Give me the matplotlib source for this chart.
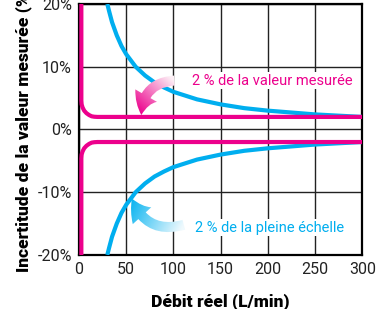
import numpy as np
import matplotlib
matplotlib.use("Agg")
import matplotlib.pyplot as plt
from matplotlib.patches import FancyArrowPatch
from matplotlib.colors import LinearSegmentedColormap

# 2 % de la pleine echelle (upper branch, lower is mirrored)
x_fs = [30, 32, 35, 40, 45, 50, 60, 70, 80, 90, 100, 125, 150, 175, 200, 250, 300]
y_fs = [20.0, 18.8, 17.1, 15.0, 13.3, 12.0, 10.0, 8.6, 7.5, 6.7, 6.0, 4.8, 4.0, 3.4, 3.0, 2.4, 2.0]

# 2 % de la valeur mesuree (upper branch, lower is mirrored), rounded corner
x_mv = [2.5, 2.5, 2.8, 3.8, 5.5, 7.9, 10.7, 13.4, 16.2, 19.5, 300]
y_mv = [20.0, 4.6, 4.0, 3.5, 3.0, 2.6, 2.3, 2.1, 2.03, 2.0, 2.0]

xticks = [0, 50, 100, 150, 200, 250, 300]
yticks = [-20, -10, 0, 10, 20]
ytick_labels = ["-20%", "-10%", "0%", "10%", "20%"]

magenta = "#EC008C"
cyan = "#00AEEF"

plt.rcParams['font.family'] = ['Roboto', 'DejaVu Sans']

fig = plt.figure(figsize=(3.79, 3.09), dpi=100)
ax = fig.add_axes([0.2084, 0.175, 0.956 - 0.2084, 0.987 - 0.175])

ax.plot(x_fs, y_fs, color=cyan, lw=3, solid_capstyle='butt', zorder=3)
ax.plot(x_fs, [-v for v in y_fs], color=cyan, lw=3, solid_capstyle='butt', zorder=3)
ax.plot(x_mv, y_mv, color=magenta, lw=3, solid_joinstyle='round', zorder=4)
ax.plot(x_mv, [-v for v in y_mv], color=magenta, lw=3, solid_joinstyle='round', zorder=4)

ax.set_xlim(0, 300)
ax.set_ylim(-20, 20)
ax.set_xticks(xticks)
ax.set_yticks(yticks)
ax.set_yticklabels(ytick_labels)
ax.tick_params(length=0, labelsize=11.5, pad=5, colors='#222222')
ax.grid(True, color='#222222', lw=1)
ax.set_axisbelow(True)
for s in ax.spines.values():
    s.set_linewidth(1.6)
    s.set_color('black')

ax.set_xlabel("Débit réel (L/min)", fontsize=12.5, fontweight='black', labelpad=12)
ax.set_ylabel("Incertitude de la valeur mesurée (%)", fontsize=12.5, fontweight='black', labelpad=4)

ax.text(205, 7.8, "2 % de la valeur mesurée", color=magenta, fontsize=10.5, ha='center', va='center',
        bbox=dict(facecolor='white', edgecolor='none', pad=1), zorder=5)
ax.text(202, -15.7, "2 % de la pleine échelle", color=cyan, fontsize=10.5, ha='center', va='center',
        bbox=dict(facecolor='white', edgecolor='none', pad=1), zorder=5)


def gradient_arrow(tail, tip, rad, c0, c1):
    arr = FancyArrowPatch(tail, tip, connectionstyle=f"arc3,rad={rad}",
                          arrowstyle="simple,head_width=1.5,head_length=1.2,tail_width=0.6",
                          mutation_scale=12, facecolor='none', edgecolor='none',
                          shrinkA=0, shrinkB=0, transform=ax.transData)
    ax.add_patch(arr)
    gx = np.linspace(0, 300, 300)
    gy = np.linspace(-20, 20, 200)
    GX, GY = np.meshgrid(gx, gy)
    pts = ax.transData.transform(np.c_[GX.ravel(), GY.ravel()])
    p0 = ax.transData.transform(tail)
    p1 = ax.transData.transform(tip)
    d = p1 - p0
    t = ((pts - p0) @ d) / (d @ d)
    t = np.clip(t, 0, 1).reshape(GX.shape)
    cmap = LinearSegmentedColormap.from_list("g", [c0, c1])
    im = ax.imshow(t, extent=(0, 300, -20, 20), origin='lower', cmap=cmap,
                   aspect='auto', zorder=6, vmin=0, vmax=1, interpolation='bilinear')
    im.set_clip_path(arr)


gradient_arrow((101, 7.8), (66, 2.3), 0.45, "#FDF0F6", magenta)
gradient_arrow((111, -15.2), (56, -11.0), -0.45, "#F0FAFE", "#0AB4F0")

ax.set_xlim(0, 300)
ax.set_ylim(-20, 20)

fig.savefig("out.png", dpi=100)
